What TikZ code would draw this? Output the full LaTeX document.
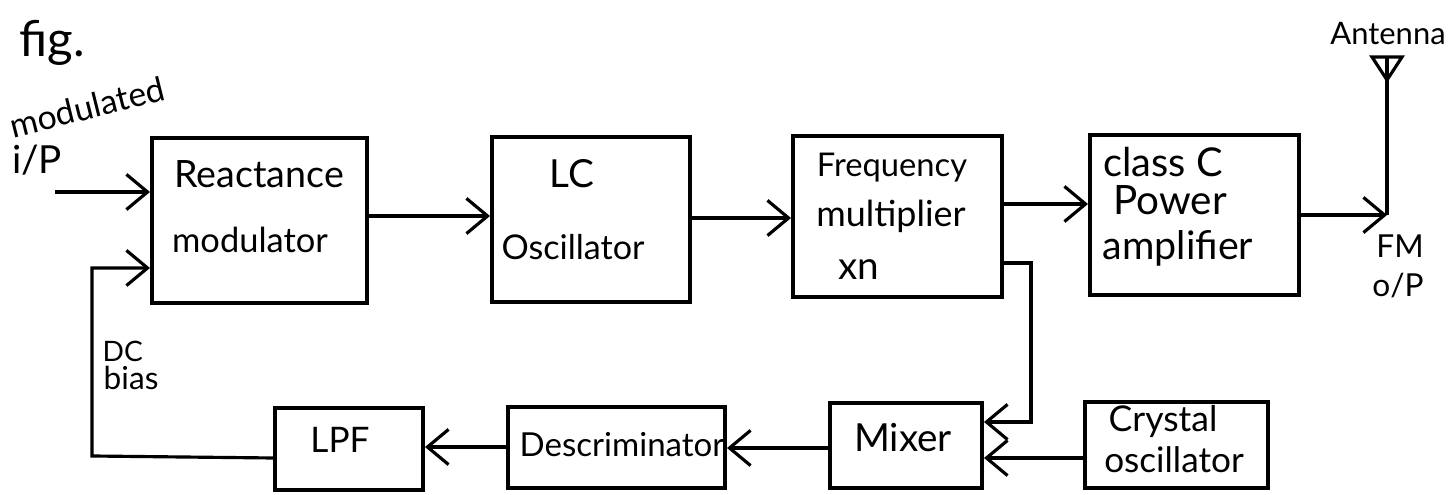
\documentclass[tikz,border=0pt]{standalone}
\usepackage{fontspec}
\setmainfont{Lato}
\usetikzlibrary{arrows.meta}
\begin{document}
\begin{tikzpicture}[x=0.01cm,y=-0.01cm,
  blk/.style={draw,line width=1.1pt,inner sep=0pt},
  wire/.style={line width=0.9pt},
  arr/.style={wire,-{Straight Barb[length=6pt,width=10pt,line width=0.9pt]}},
  lbl/.style={inner sep=0pt,anchor=base,font=\fontsize{#1}{#1}\selectfont},
  lbl/.default=11]
\useasboundingbox (0,0) rectangle (1455,495);

% top row of blocks
\node[blk,minimum width=2.15cm,minimum height=1.65cm] (rm) at (259.5,220.5) {};
\node[blk,minimum width=1.98cm,minimum height=1.65cm] (lc) at (591,219.5) {};
\node[blk,minimum width=2.09cm,minimum height=1.61cm] (fm) at (897.5,216.5) {};
\node[blk,minimum width=2.09cm,minimum height=1.60cm] (pa) at (1194.5,215) {};

% bottom row of blocks
\node[blk,minimum width=1.48cm,minimum height=0.82cm] (lpf) at (349,449) {};
\node[blk,minimum width=2.17cm,minimum height=0.81cm] (dis) at (616.5,447.5) {};
\node[blk,minimum width=1.52cm,minimum height=0.85cm] (mix) at (906,445.5) {};
\node[blk,minimum width=1.83cm,minimum height=0.86cm] (xo) at (1176.5,445) {};

% block labels
\node[lbl=10.7] (t1a) at (259,188) {Reactance};
\node[lbl=9.8] (t1b) at (250,253) {modulator};
\node[lbl] (t2a) at (572,188) {LC};
\node[lbl=9.7] (t2b) at (573,260) {Oscillator};
\node[lbl=9.3] (t3a) at (892,177) {Frequency};
\node[lbl=10.2] (t3b) at (891,227) {multiplier};
\node[lbl] (t3c) at (859,280) {xn};
\node[lbl=11.3] (t4a) at (1163,177) {class C};
\node[lbl=11.5] (t4b) at (1170,215) {Power};
\node[lbl=11.2] (t4c) at (1178,260) {amplifier};
\node[lbl=10] (t5) at (340,453) {LPF};
\node[lbl=9.4] (t6) at (622,457) {Descriminator};
\node[lbl] (t7) at (903,452) {Mixer};
\node[lbl=10.1] (t8a) at (1163,432) {Crystal};
\node[lbl=10] (t8b) at (1174,473) {oscillator};

% free labels
\node[lbl=14] (fig) at (52,57) {fig.};
\node[lbl=9.6,rotate=14] (mod) at (90,119) {modulated};
\node[lbl] (ip) at (37,174) {i/P};
\node[lbl=8.8] (ant) at (1388,45) {Antenna};
\node[lbl=9] (fmo) at (1400,258) {FM};
\node[lbl=9] (op) at (1398,297) {o/P};
\node[lbl=8,anchor=base west] (dc) at (102,362) {DC};
\node[lbl=9,anchor=base west] (bias) at (103,390) {bias};

% forward path
\coordinate (in) at (55,192);
\draw[arr] (in) -- (in -| rm.west);
\draw[arr] (rm.east |- 0,216) -- (lc.west |- 0,216);
\draw[arr] (lc.east |- 0,218) -- (fm.west |- 0,218);
\draw[arr] (fm.east |- 0,204) -- (pa.west |- 0,204);

% output to the antenna
\coordinate (feed) at (1387,215);
\coordinate (mast) at (1387,57);
\draw[arr] (pa.east |- feed) -- (feed);
\draw[wire] (feed) -- (mast);
\draw[wire] (1372,57) -- (1402,57) -- (1387,80) -- cycle;

% mixing loop
\coordinate (tap) at (1031,263);
\draw[arr] (fm.east |- tap) -- (tap) -- (tap |- 0,422) -- (mix.east |- 0,422);
\draw[arr] (xo.west |- 0,458) -- (mix.east |- 0,458);
\draw[arr] (mix.west |- 0,448) -- (dis.east |- 0,448);
\draw[arr] (dis.west |- 0,447) -- (lpf.east |- 0,447);

% DC bias feedback
\coordinate (fb) at (92,456);
\draw[arr] (lpf.west |- 0,458) -- (fb) -- (fb |- 0,268) -- (rm.west |- 0,268);
\end{tikzpicture}
\end{document}
